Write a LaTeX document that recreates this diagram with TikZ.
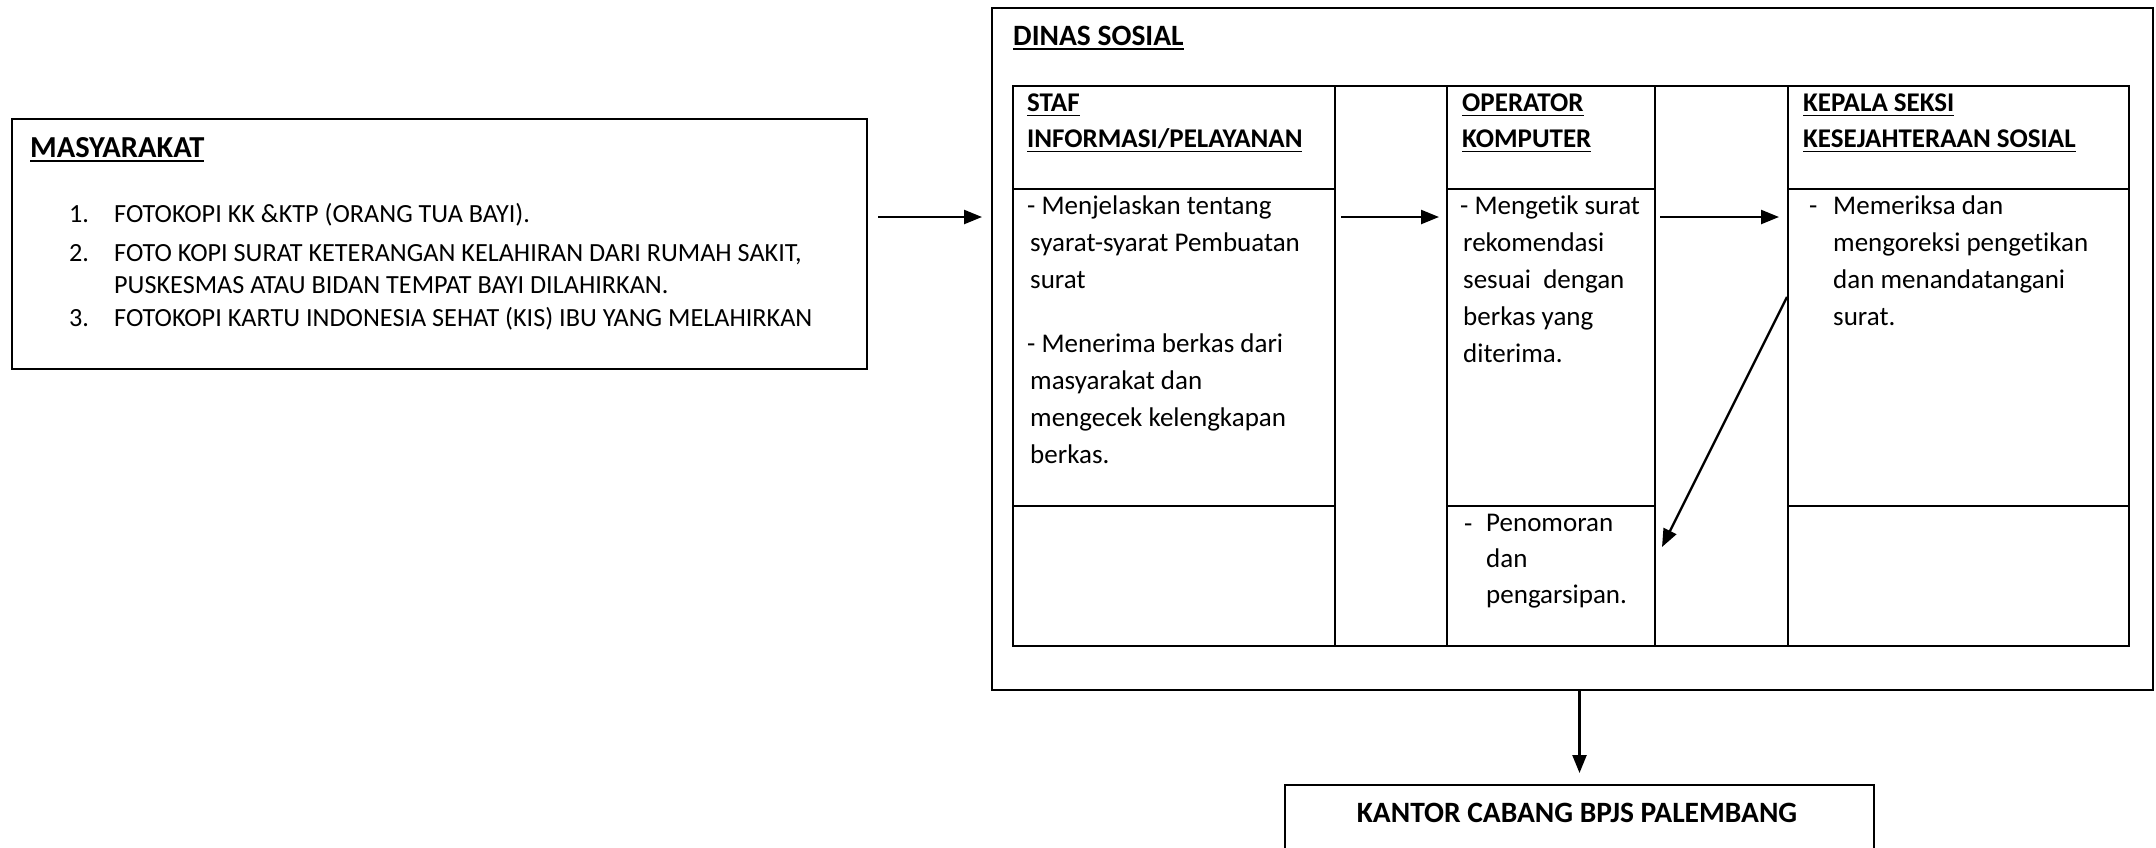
\documentclass[tikz,border=0pt]{standalone}
\usepackage{fontspec}
\setmainfont{Carlito}[Ligatures=NoCommon]
\usetikzlibrary{arrows.meta}
\newsavebox\myulbox
\newcommand\myul[1]{\sbox\myulbox{#1}\rlap{\rule[-4.5pt]{\wd\myulbox}{1.6pt}}\usebox\myulbox}
\begin{document}
\begin{tikzpicture}[x=1pt,y=-1pt,
  box/.style={draw, line width=2pt, inner sep=0pt, anchor=north west},
  txt/.style={inner sep=0pt, align=left, anchor=north west, font=\fontsize{27}{37}\selectfont},
  htxt/.style={inner sep=0pt, align=left, anchor=north west, font=\fontsize{27}{36}\selectfont\bfseries},
  btxt/.style={inner sep=0pt, anchor=base west, font=\fontsize{29.5}{37}\selectfont\bfseries},
  ltxt/.style={inner sep=0pt, align=left, anchor=base west, font=\fontsize{26.2}{32}\selectfont},
  arr/.style={line width=2.4pt, -{Triangle[length=18pt,width=14pt]}}]
\clip (0,0) rectangle (2156,847);
\fill[white] (0,0) rectangle (2156,847);
% boxes
\node[box, minimum width=855pt, minimum height=250pt] (masy) at (11,118) {};
\node[box, minimum width=1161pt, minimum height=682pt] (dinas) at (991,7) {};
\node[box, minimum width=589pt, minimum height=120pt] (kantor) at (1284,784) {};
% table cells
\node[box, minimum width=322pt, minimum height=103pt] (c1h) at (1012,85) {};
\node[box, minimum width=322pt, minimum height=317pt] (c1b) at (1012,188) {};
\node[box, minimum width=322pt, minimum height=140pt] (c1l) at (1012,505) {};
\node[box, minimum width=112pt, minimum height=560pt] (c2) at (1334,85) {};
\node[box, minimum width=208pt, minimum height=103pt] (c3h) at (1446,85) {};
\node[box, minimum width=208pt, minimum height=317pt] (c3b) at (1446,188) {};
\node[box, minimum width=208pt, minimum height=140pt] (c3l) at (1446,505) {};
\node[box, minimum width=133pt, minimum height=560pt] (c4) at (1654,85) {};
\node[box, minimum width=341pt, minimum height=103pt] (c5h) at (1787,85) {};
\node[box, minimum width=341pt, minimum height=317pt] (c5b) at (1787,188) {};
\node[box, minimum width=341pt, minimum height=140pt] (c5l) at (1787,505) {};
% MASYARAKAT texts
\node[btxt, font=\fontsize{30.5}{37}\selectfont\bfseries] (tmasy) at (30,157) {\myul{MASYARAKAT}};
\node[ltxt] (n1) at (69,222) {1.};
\node[ltxt] (l1) at (114,222) {FOTOKOPI KK \&KTP (ORANG TUA BAYI).};
\node[ltxt] (n2) at (69,261) {2.};
\node[ltxt, anchor=north west] (l2) at (114,238.6) {\strut FOTO KOPI SURAT KETERANGAN KELAHIRAN DARI RUMAH SAKIT,\\PUSKESMAS ATAU BIDAN TEMPAT BAYI DILAHIRKAN.};
\node[ltxt] (n3) at (69,326) {3.};
\node[ltxt] (l3) at (114,326) {FOTOKOPI KARTU INDONESIA SEHAT (KIS) IBU YANG MELAHIRKAN};
% DINAS texts
\node[btxt] (tdinas) at (1013,45) {\myul{DINAS SOSIAL}};
\node[htxt] (t1h) at (1027,86.5) {\strut\myul{STAF}\\\myul{INFORMASI/PELAYANAN}};
\node[htxt] (t3h) at (1462,86.5) {\strut\myul{OPERATOR}\\\myul{KOMPUTER}};
\node[htxt] (t5h) at (1803,86.5) {\strut\myul{KEPALA SEKSI}\\\myul{KESEJAHTERAAN SOSIAL}};
\node[txt] (t1a) at (1027,188.1) {\strut - Menjelaskan tentang\\\hspace{3pt}syarat-syarat Pembuatan\\\hspace{3pt}surat};
\node[txt] (t1b) at (1027,326) {\strut - Menerima berkas dari\\\hspace{3pt}masyarakat dan\\\hspace{3pt}mengecek kelengkapan\\\hspace{3pt}berkas.};
\node[txt] (t3a) at (1460,188.1) {\strut - Mengetik surat\\\hspace{3pt}rekomendasi\\\hspace{3pt}sesuai\ \ dengan\\\hspace{3pt}berkas yang\\\hspace{3pt}diterima.};
\node[txt] (t3d) at (1464,506) {\strut -};
\node[txt, font=\fontsize{27}{36}\selectfont] (t3b) at (1486,506) {\strut Penomoran\\dan\\pengarsipan.};
\node[txt] (t5d) at (1809,188.1) {\strut -};
\node[txt] (t5a) at (1833,188.1) {\strut Memeriksa dan\\mengoreksi pengetikan\\dan menandatangani\\surat.};
% KANTOR text
\node[inner sep=0pt, anchor=base, font=\fontsize{29.5}{37}\selectfont\bfseries] (tkantor) at (1577,822) {KANTOR CABANG BPJS PALEMBANG};
% arrows
\coordinate (ay) at (0,217);
\coordinate (dstart) at (0,297);
\coordinate (dend) at (0,547);
\draw[arr, shorten <=10pt, shorten >=9pt] (masy.east |- ay) -- (dinas.west |- ay);
\draw[arr, shorten <=7pt, shorten >=9pt] (c2.west |- ay) -- (c2.east |- ay);
\draw[arr, shorten <=6pt, shorten >=10pt] (c4.west |- ay) -- (c4.east |- ay);
\draw[arr] (c5b.west |- dstart) -- ([xshift=6pt]c3l.east |- dend);
\draw[arr, shorten >=11pt] (kantor.north |- dinas.south) -- (kantor.north);
\end{tikzpicture}
\end{document}
